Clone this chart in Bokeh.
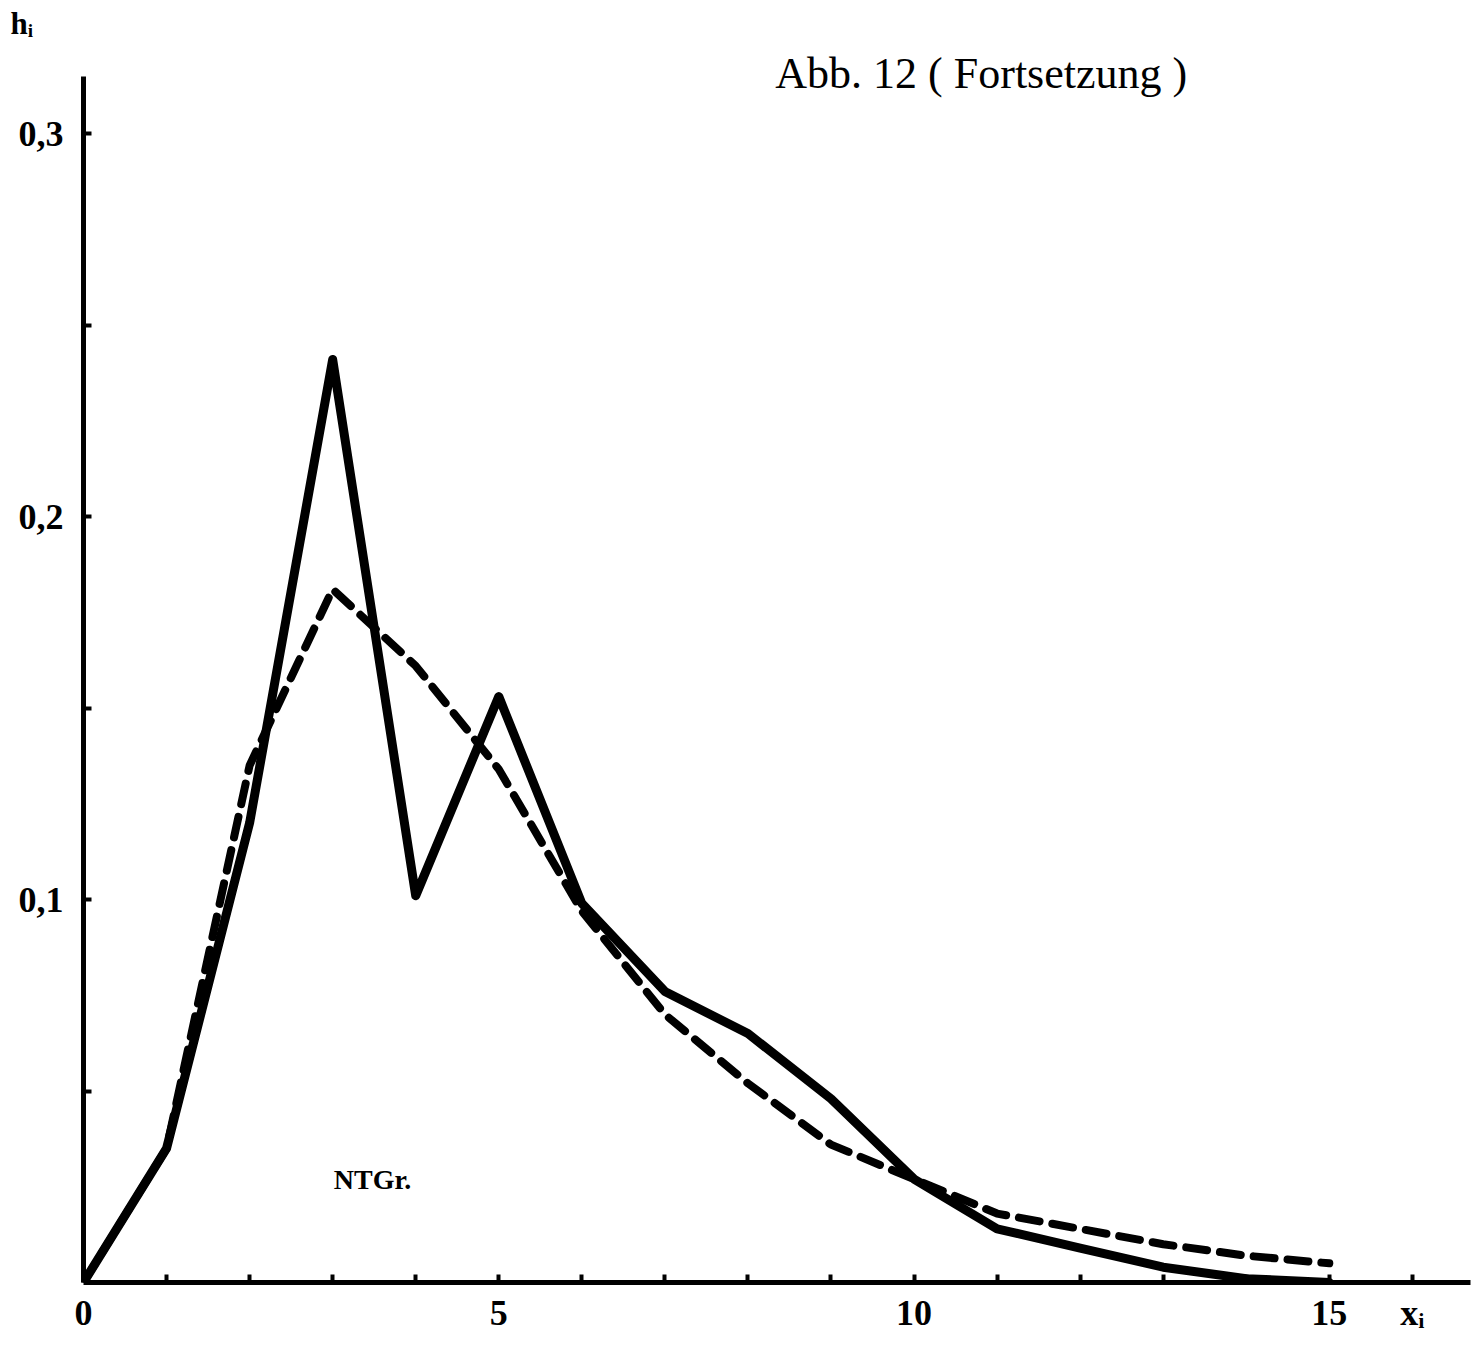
from bokeh.plotting import figure
from bokeh.models import Range1d, LinearAxis, FixedTicker, Label, Title
from bokeh.embed import file_html
from bokeh.resources import INLINE

# ---- data ----
x_vals = [0, 1, 2, 3, 4, 5, 6, 7, 8, 9, 10, 11, 12, 13, 14, 15]
h_observed = [0.0, 0.035, 0.120, 0.241, 0.101, 0.153, 0.099, 0.076, 0.065,
              0.048, 0.027, 0.014, 0.009, 0.004, 0.001, 0.0]
h_fitted = [0.0, 0.035, 0.135, 0.181, 0.161, 0.134, 0.097, 0.070, 0.052,
            0.036, 0.027, 0.018, 0.014, 0.010, 0.007, 0.005]

x_ticks = [0, 1, 2, 3, 4, 5, 6, 7, 8, 9, 10, 11, 12, 13, 14, 15, 16]
x_tick_labels = {0: "0", 5: "5", 10: "10", 15: "15", 16: "x\u1d62"}
y_ticks = [0.05, 0.1, 0.15, 0.2, 0.25, 0.3]
y_tick_labels = {0.1: "0,1", 0.2: "0,2", 0.3: "0,3"}
y_axis_top = 0.315

title_text = "Abb. 12 ( Fortsetzung )"
y_name = "h\u1d62"
group_text = "NTGr."

FONT = "Liberation Serif"

p = figure(width=1479, height=1348, output_backend="svg", toolbar_location=None,
           x_axis_type=None, y_axis_type=None,
           x_range=Range1d(0, 16.7), y_range=Range1d(0, 0.3243),
           min_border_left=83, min_border_right=9, min_border_top=40,
           min_border_bottom=66)
p.outline_line_color = None
p.grid.visible = False
p.background_fill_color = "white"
p.border_fill_color = "white"

xaxis = LinearAxis(ticker=FixedTicker(ticks=x_ticks))
xaxis.major_label_overrides = {t: x_tick_labels.get(t, "") for t in x_ticks}
yaxis = LinearAxis(ticker=FixedTicker(ticks=y_ticks), bounds=(0, y_axis_top))
yaxis.major_label_overrides = {t: y_tick_labels.get(t, "") for t in y_ticks}
for ax in (xaxis, yaxis):
    ax.axis_line_width = 5
    ax.axis_line_color = "black"
    ax.major_tick_in = 8
    ax.major_tick_out = 0
    ax.major_tick_line_width = 4
    ax.minor_tick_line_color = None
    ax.major_label_text_font = FONT
    ax.major_label_text_font_style = "bold"
    ax.major_label_text_font_size = "36px"
    ax.major_label_text_color = "black"
xaxis.major_label_standoff = 10
yaxis.major_label_standoff = 20
p.add_layout(xaxis, "below")
p.add_layout(yaxis, "left")

# y-axis name above the axis
p.add_layout(Title(text=y_name, align="left", offset=-73, standoff=0,
                   text_font=FONT, text_font_style="bold",
                   text_font_size="31px", text_color="black"), "above")

p.line(x_vals, h_fitted, line_color="black", line_width=8, line_dash="21 13",
       line_cap="round", line_join="round")
p.line(x_vals, h_observed, line_color="black", line_width=9,
       line_cap="round", line_join="round")

p.add_layout(Label(x=8.33, y=0.3157, text=title_text, text_align="left",
                   text_baseline="alphabetic", text_font=FONT,
                   text_font_size="44px", text_color="black"))
p.add_layout(Label(x=3.48, y=0.027, text=group_text, text_align="center",
                   text_baseline="middle", text_font=FONT, text_font_style="bold",
                   text_font_size="28px", text_color="black"))

open("out.html", "w").write(file_html(p, INLINE))
